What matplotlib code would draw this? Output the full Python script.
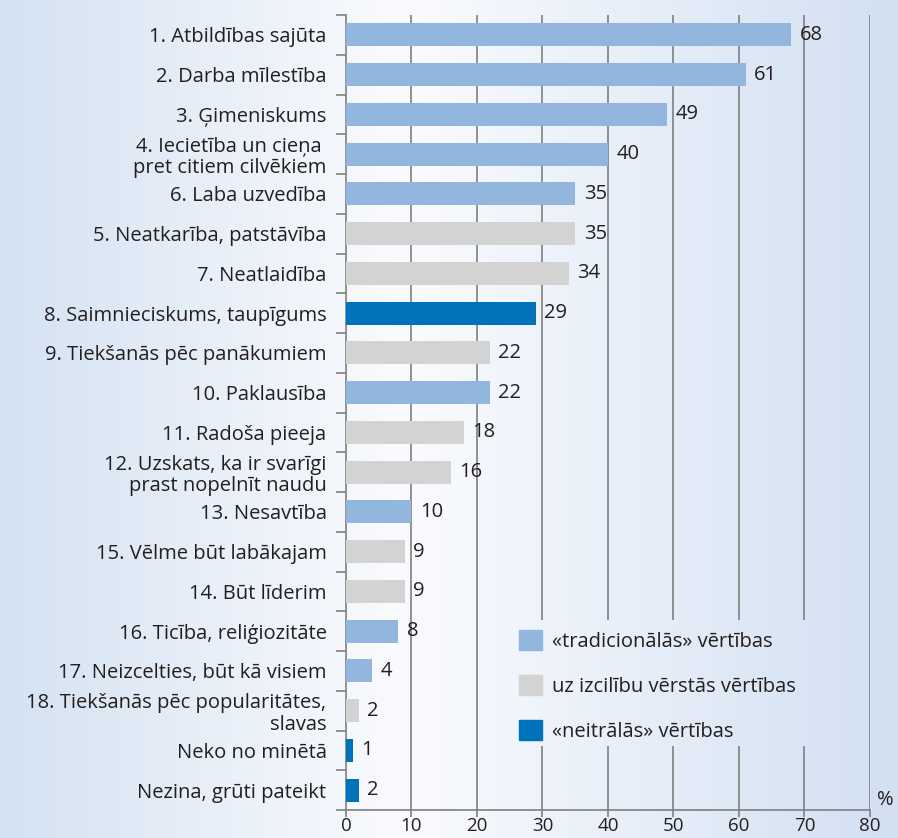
import matplotlib.pyplot as plt
import matplotlib.patches as mpatches
import numpy as np

plt.rcParams['font.family'] = ['Open Sans', 'DejaVu Sans']

labels = [
    "1. Atbildības sajūta",
    "2. Darba mīlestība",
    "3. Ģimeniskums",
    "4. Iecietība un cieņa \npret citiem cilvēkiem",
    "6. Laba uzvedība",
    "5. Neatkarība, patstāvība",
    "7. Neatlaidība",
    "8. Saimnieciskums, taupīgums",
    "9. Tiekšanās pēc panākumiem",
    "10. Paklausība",
    "11. Radoša pieeja",
    "12. Uzskats, ka ir svarīgi\nprast nopelnīt naudu",
    "13. Nesavtība",
    "15. Vēlme būt labākajam",
    "14. Būt līderim",
    "16. Ticība, reliģiozitāte",
    "17. Neizcelties, būt kā visiem",
    "18. Tiekšanās pēc popularitātes,\nslavas",
    "Neko no minētā",
    "Nezina, grūti pateikt",
]
values = [68, 61, 49, 40, 35, 35, 34, 29, 22, 22, 18, 16, 10, 9, 9, 8, 4, 2, 1, 2]
groups = ["trad", "trad", "trad", "trad", "trad", "izc", "izc", "neitr", "izc", "trad",
          "izc", "izc", "trad", "izc", "izc", "trad", "trad", "izc", "neitr", "neitr"]

group_names = {
    "trad": "«tradicionālās» vērtības",
    "izc": "uz izcilību vērstās vērtības",
    "neitr": "«neitrālās» vērtības",
}
group_colors = {"trad": "#93b6df", "izc": "#d3d3d3", "neitr": "#0072bc"}

txt = "#231f20"
gridc = "#7f7f7f"
fs = 14.5

fig = plt.figure(figsize=(8.98, 8.38), dpi=100)

# background gradient: light blue - white - light blue
bg = fig.add_axes([0, 0, 1, 1], zorder=-10)
xs = np.linspace(0, 1, 400)
r = np.interp(xs, [0, 0.45, 1], [212, 250, 210]) / 255
g = np.interp(xs, [0, 0.45, 1], [226, 251, 224]) / 255
b = np.interp(xs, [0, 0.45, 1], [242, 254, 242]) / 255
grad = np.dstack([r, g, b])
bg.imshow(grad, aspect='auto', extent=[0, 1, 0, 1])
bg.axis('off')

ax = fig.add_axes([0.3853, 0.0334, 0.5835, 0.9487])
ax.set_facecolor('none')

y = np.arange(len(values))
colors = [group_colors[gr] for gr in groups]
ax.barh(y, values, height=0.58, color=colors, zorder=3)

for yi, v in zip(y, values):
    ax.annotate(str(v), (v, yi), xytext=(6, 0), textcoords='offset points',
                va='center', ha='left', fontsize=fs, color=txt, zorder=4)

ax.set_ylim(len(values) - 0.5, -0.5)
ax.set_xlim(0, 80)

# gridlines, broken where the legend sits
gap_lo, gap_hi = 14.72, 17.9
for gx in range(10, 90, 10):
    if 30 <= gx <= 70:
        ax.vlines(gx, -0.5, gap_lo, color=gridc, lw=1.2, zorder=2)
        ax.vlines(gx, gap_hi, len(values) - 0.5, color=gridc, lw=1.2, zorder=2)
    else:
        ax.vlines(gx, -0.5, len(values) - 0.5, color=gridc, lw=1.2, zorder=2)

ax.set_yticks(y)
ax.set_yticklabels(labels, fontsize=fs, color=txt, linespacing=1.1)
ax.tick_params(axis='y', which='major', length=0, pad=14)
ax.set_yticks(np.arange(-0.5, len(values)), minor=True)
ax.tick_params(axis='y', which='minor', length=7, width=1.2, color=gridc, direction='out')

ax.set_xticks(range(0, 90, 10))
ax.tick_params(axis='x', length=5, width=1.2, color=gridc, direction='out',
               labelsize=13.5, labelcolor=txt, pad=0)

for s in ['top', 'right']:
    ax.spines[s].set_visible(False)
for s in ['left', 'bottom']:
    ax.spines[s].set_color(gridc)
    ax.spines[s].set_linewidth(1.2)

ax.annotate("%", (1, 0), xycoords='axes fraction', xytext=(5, 0),
            textcoords='offset points', ha='left', va='bottom', fontsize=fs, color=txt)

handles = [mpatches.Patch(color=group_colors[k], label=group_names[k])
           for k in ["trad", "izc", "neitr"]]
leg = ax.legend(handles=handles, loc='upper left', bbox_to_anchor=(0.330, 0.226),
                frameon=False, fontsize=fs, handlelength=1.15, handleheight=1.15,
                handletextpad=0.5, labelspacing=1.15, borderpad=0, borderaxespad=0,
                labelcolor=txt)

fig.savefig("out.png", dpi=100)
